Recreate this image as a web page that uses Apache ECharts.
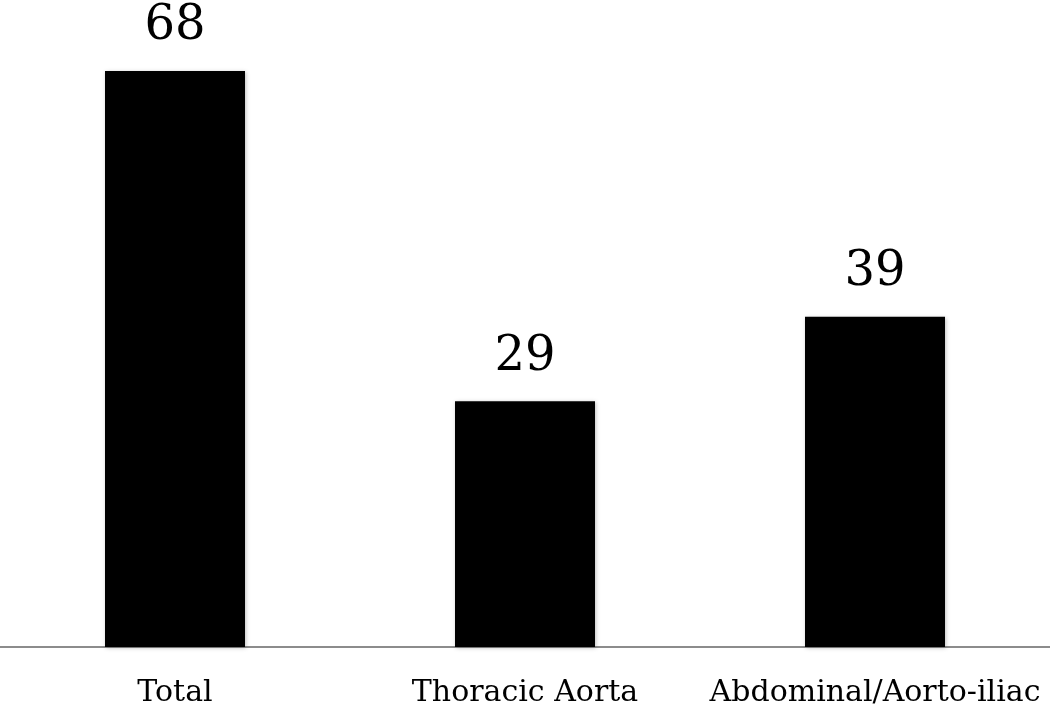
<!DOCTYPE html>
<html>
<head>
<meta charset="utf-8">
<script src="https://cdn.jsdelivr.net/npm/echarts@6/dist/echarts.min.js"></script>
<style>
    html, body { margin: 0; padding: 0; background: #fff; }
    #myChart { width: 1050px; height: 712px; }
</style>
</head>
<body>
<div id="myChart"></div>
<script>
    // categories and counts
    let categories = ['Total', 'Thoracic Aorta', 'Abdominal/Aorto-iliac'];
    let counts = [68, 29, 39];

    let myChart = echarts.init(document.getElementById('myChart'));
    let option = {
        backgroundColor: '#fff',
        animation: false,
        grid: {
            left: 0,
            right: 0,
            top: 71,
            bottom: 65
        },
        xAxis: {
            type: 'category',
            data: categories,
            axisLine: {
                lineStyle: { color: '#8c8c8c', width: 2 }
            },
            axisTick: { show: false },
            axisLabel: {
                interval: 0,
                hideOverlap: false,
                color: '#000',
                fontFamily: 'DejaVu Serif',
                fontSize: 30,
                margin: 31
            }
        },
        yAxis: {
            type: 'value',
            min: 0,
            max: 68,
            show: false,
            splitLine: { show: false }
        },
        series: [{
            type: 'bar',
            barWidth: 140,
            data: counts,
            itemStyle: {
                color: '#000',
                shadowColor: 'rgba(0,0,0,0.25)',
                shadowBlur: 4,
                shadowOffsetX: 1,
                shadowOffsetY: 1
            },
            label: {
                show: true,
                position: 'top',
                distance: 20,
                color: '#000',
                fontFamily: 'DejaVu Serif',
                fontSize: 48
            }
        }]
    };
    myChart.setOption(option);
</script>
</body>
</html>
